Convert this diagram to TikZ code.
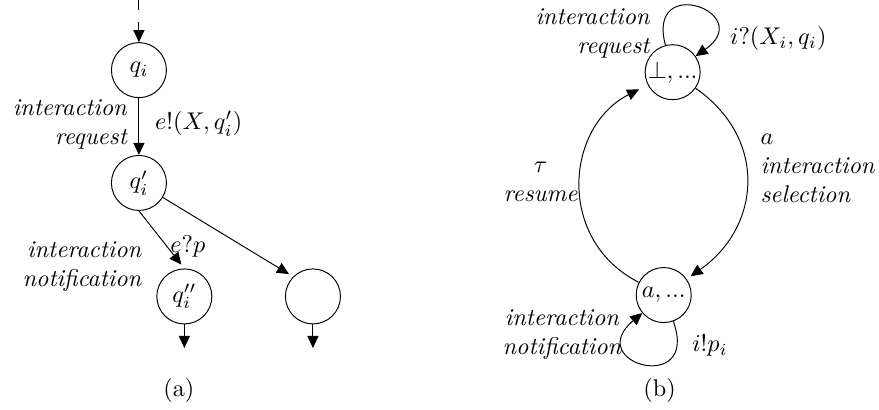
\documentclass[tikz,border=0pt]{standalone}
\usetikzlibrary{arrows.meta}
\begin{document}
\begin{tikzpicture}[
    state/.style={circle, draw, minimum size=0.8cm, inner sep=0pt},
    trans/.style={-{Triangle[length=5pt,width=4.6pt]}},
    lbl/.style={font=\itshape, inner sep=0pt}
  ]
%% The page is fixed to the size of both sub-figures together
    \useasboundingbox (0,0) rectangle (12.78,5.96);
%% (a) the run of one component: states first, then the transitions between them
    \coordinate (qin) at (2.02,5.96);
    \node[state] (qi) at (2.02,4.94) {$q_i$};
    \node[state] (qip) at (2.02,3.30) {$q_i'$};
    \node[state] (qipp) at (2.68,1.65) {$q_i''$};
    \node[state] (qe) at (4.55,1.65) {};
    \coordinate (qippout) at (2.68,0.90);
    \coordinate (qeout) at (4.55,0.90);
    \draw[trans, dash pattern=on 4pt off 5pt] (qin) -- (qi);
    \draw[trans] (qi) -- (qip);
    \draw[trans, shorten >=2pt] (qip.south) -- (qipp.north);
    \draw[trans, shorten >=2pt] (qip) -- (qe.north west);
    \draw[trans] (qipp) -- (qippout);
    \draw[trans] (qe) -- (qeout);
%% labels of (a)
    \node[lbl, align=right, anchor=east] (reqA) at (1.85,4.15) {interaction\\request};
    \node[lbl, anchor=west] (sendA) at (2.25,4.16) {$e!(X,q_i')$};
    \node[lbl, anchor=west] (recvA) at (2.47,2.37) {$e?p$};
    \node[lbl, align=right, anchor=east] (notifA) at (2.06,2.08) {interaction\\notification};
    \node (capA) at (2.60,0.29) {(a)};
%% (b) the interaction component with its two states
    \node[state] (bot) at (9.78,4.91) {$\bot, ...$};
    \node[state] (anode) at (9.65,1.67) {$a, ...$};
    \draw[trans] (bot) to[out=105,in=35,looseness=6] (bot);
    \draw[trans, shorten >=2pt] (bot) to[out=-35,in=35,looseness=1.2] (anode);
    \draw[trans, shorten >=4pt] (anode) to[out=153,in=207,looseness=1.2] (bot);
    \draw[trans] (anode) to[out=-70,in=220,looseness=6.3] (anode);
%% labels of (b)
    \node[lbl, align=right, anchor=east] (reqB) at (9.45,5.47) {interaction\\request};
    \node[lbl, anchor=west] (recvB) at (10.61,5.40) {$i?(X_i,q_i)$};
    \node[lbl, align=left, anchor=west] (selB) at (11.05,3.51) {$a$\\interaction\\selection};
    \node[lbl, align=center] (resB) at (7.86,3.32) {$\tau$\\resume};
    \node[lbl, align=center] (notifB) at (8.17,1.10) {interaction\\notification};
    \node[lbl, anchor=west] (sendB) at (10.06,0.93) {$i!p_i$};
    \node (capB) at (9.59,0.29) {(b)};
\end{tikzpicture}
\end{document}
